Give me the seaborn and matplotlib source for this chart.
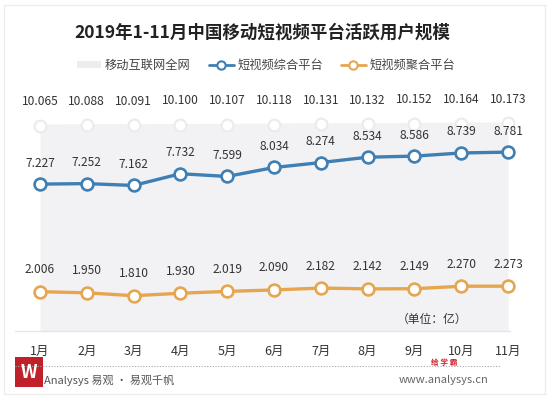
import matplotlib
matplotlib.use("Agg")
import matplotlib.pyplot as plt
import seaborn as sns
import pandas as pd
from matplotlib.lines import Line2D
from matplotlib.patches import Patch, Rectangle

months = ["1月", "2月", "3月", "4月", "5月", "6月", "7月", "8月", "9月", "10月", "11月"]
total_net = [10.065, 10.088, 10.091, 10.100, 10.107, 10.118, 10.131, 10.132, 10.152, 10.164, 10.173]
short_video = [7.227, 7.252, 7.162, 7.732, 7.599, 8.034, 8.274, 8.534, 8.586, 8.739, 8.781]
aggregate = [2.006, 1.950, 1.810, 1.930, 2.019, 2.090, 2.182, 2.142, 2.149, 2.270, 2.273]
series_names = ["移动互联网全网", "短视频综合平台", "短视频聚合平台"]

sns.set_theme(style="white")
plt.rcParams['font.family'] = ['Noto Sans CJK SC', 'DejaVu Sans']

BLUE = "#3f7fb3"
ORANGE = "#e6a650"
FILL = "#f2f2f4"
TEXT = "#333333"

x = list(range(1, len(months) + 1))
df = pd.DataFrame({"x": x, "total": total_net, "blue": short_video, "orange": aggregate})

fig = plt.figure(figsize=(5.49, 3.99), dpi=100)
ax = fig.add_axes([15 / 549, 68 / 399, 505 / 549, 221 / 399])
ylo = 2.0 / 20.6
ax.set_xlim(1 - 25 / 46.8, 1 + (505 - 25) / 46.8)
ax.set_ylim(ylo, ylo + 221 / 20.6)

# gray area for whole-network series
ax.fill_between(df["x"], ylo, df["total"], color=FILL, lw=0, zorder=1)
ax.plot(df["x"], df["total"], color=FILL, lw=1.5, marker="o", ms=8.5,
        mfc="white", mec="#ebebeb", mew=1.5, zorder=2, clip_on=False)

sns.lineplot(data=df, x="x", y="blue", ax=ax, color=BLUE, lw=2.4, marker="o",
             markersize=8.5, markerfacecolor="white", markeredgecolor=BLUE,
             markeredgewidth=1.9, zorder=3, clip_on=False)
sns.lineplot(data=df, x="x", y="orange", ax=ax, color=ORANGE, lw=2.4, marker="o",
             markersize=8.5, markerfacecolor="white", markeredgecolor=ORANGE,
             markeredgewidth=1.9, zorder=3, clip_on=False)

for xi, v in zip(x, total_net):
    ax.annotate(f"{v:.3f}", (xi, v), xytext=(0, 24), textcoords="offset pixels",
                ha="center", va="center", fontsize=8.6, color=TEXT)
for xi, v in zip(x, short_video):
    ax.annotate(f"{v:.3f}", (xi, v), xytext=(0, 21), textcoords="offset pixels",
                ha="center", va="center", fontsize=8.6, color=TEXT)
for xi, v in zip(x, aggregate):
    ax.annotate(f"{v:.3f}", (xi, v), xytext=(0, 22), textcoords="offset pixels",
                ha="center", va="center", fontsize=8.6, color=TEXT)

for s in ["top", "right", "left"]:
    ax.spines[s].set_visible(False)
ax.spines["bottom"].set_color("#e6e6e6")
ax.spines["bottom"].set_linewidth(1)
ax.spines["bottom"].set_bounds(ax.get_xlim()[0], 11.05)
ax.set_xticks(x)
ax.set_xticklabels(months, fontsize=9, color=TEXT)
ax.tick_params(axis="x", length=0, pad=10)
ax.set_yticks([])
ax.set_xlabel("")
ax.set_ylabel("")
ax.patch.set_alpha(0)

ax.text(1 + (467 - 40) / 46.8, 0.65, "（单位：亿）", ha="right", va="center",
        fontsize=8.5, color=TEXT)

# title
fig.text(262 / 549, 1 - 33 / 399, "2019年1-11月中国移动短视频平台活跃用户规模",
         ha="center", va="center", fontsize=12.6, fontweight="bold", color="#222222")

handles = [
    Patch(facecolor="#ededef", edgecolor="none"),
    Line2D([], [], color=BLUE, lw=2, marker="o", ms=6, mfc="white", mec=BLUE, mew=1.5),
    Line2D([], [], color=ORANGE, lw=2, marker="o", ms=6, mfc="white", mec=ORANGE, mew=1.5),
]
fig.legend(handles, series_names, loc="center", bbox_to_anchor=(266 / 549, 1 - 65 / 399),
           ncol=3, frameon=False, fontsize=8.8, handlelength=2.0, handleheight=0.5,
           columnspacing=1.5, handletextpad=0.3, labelcolor="#444444")

# footer
fig.add_artist(Line2D([15 / 549, 500 / 549], [1 - 366 / 399, 1 - 366 / 399],
                      color="#aaaaaa", lw=0.8, ls=(0, (1, 1.5))))
fig.add_artist(Rectangle((15 / 549, 1 - 387 / 399), 28 / 549, 30 / 399,
                         facecolor="#c0202a", edgecolor="none"))
fig.text(29 / 549, 1 - 372 / 399, "W", ha="center", va="center", fontsize=13,
         fontweight="bold", color="white")
fig.text(44 / 549, 1 - 380 / 399, "Analysys 易观 · 易观千帆", ha="left", va="center",
         fontsize=8, color="#555555")
fig.text(444 / 549, 1 - 380 / 399, "www.analysys.cn", ha="center", va="center",
         fontsize=8, color="#666666")
fig.text(444 / 549, 1 - 362 / 399, "给 学 霸", ha="center", va="center",
         fontsize=5.5, fontweight="bold", color="#d0202a")

fig.add_artist(Rectangle((4 / 549, 5 / 399), 541 / 549, 389 / 399, facecolor="none",
                         edgecolor="#ececec", lw=1))

fig.savefig("out.png", dpi=100)
